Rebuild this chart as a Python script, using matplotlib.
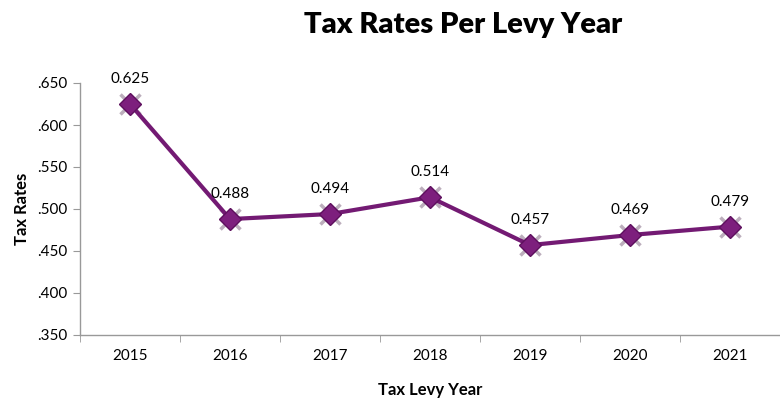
import matplotlib.pyplot as plt
from matplotlib.ticker import FuncFormatter

years = ['2015', '2016', '2017', '2018', '2019', '2020', '2021']
rates = [0.625, 0.488, 0.494, 0.514, 0.457, 0.469, 0.479]

plt.rcParams['font.family'] = ['Lato', 'DejaVu Sans']

fig = plt.figure(figsize=(7.8, 3.98), dpi=100)
ax = fig.add_axes([80 / 780, 63 / 398, 700 / 780, 252 / 398])

x = list(range(len(years)))
purple = '#731a73'

# grey cross behind each diamond
ax.plot(x, rates, linestyle='none', marker='x', markersize=14, markeredgewidth=2.5,
        color='#bcaebc', zorder=2)
ax.plot(x, rates, color=purple, linewidth=3, marker='D', markersize=11,
        markerfacecolor='#7d1f7d', markeredgecolor='#5e105e', markeredgewidth=1, zorder=3)

for xi, r in zip(x, rates):
    ax.annotate(f'{r:.3f}', (xi, r), xytext=(0, 13), textcoords='offset points',
                ha='center', va='bottom', fontsize=11)

ax.set_xlim(-0.5, 6.43)
ax.set_ylim(0.35, 0.65)
ax.set_yticks([0.35, 0.40, 0.45, 0.50, 0.55, 0.60, 0.65])
ax.yaxis.set_major_formatter(FuncFormatter(lambda v, p: f'{v:.3f}'.lstrip('0')))
ax.set_xticks(x)
ax.set_xticklabels(years)
ax.set_xticks([i + 0.5 for i in range(-1, 7)], minor=True)
ax.tick_params(axis='x', which='major', length=0, pad=10, labelsize=11)
ax.tick_params(axis='x', which='minor', length=5, color='#999999')
ax.tick_params(axis='y', length=5, color='#999999', labelsize=11, pad=4)

for side in ['top', 'right']:
    ax.spines[side].set_visible(False)
for side in ['left', 'bottom']:
    ax.spines[side].set_color('#999999')
    ax.spines[side].set_linewidth(1)

ax.set_xlabel('Tax Levy Year', fontsize=12, fontweight='bold', labelpad=14)
ax.set_ylabel('Tax Rates', fontsize=12, fontweight='bold', labelpad=5)
fig.text(463 / 780, 1 - 25 / 398, 'Tax Rates Per Levy Year', ha='center', va='center',
         fontsize=21, fontweight='heavy')

fig.savefig('out.png', dpi=100)
